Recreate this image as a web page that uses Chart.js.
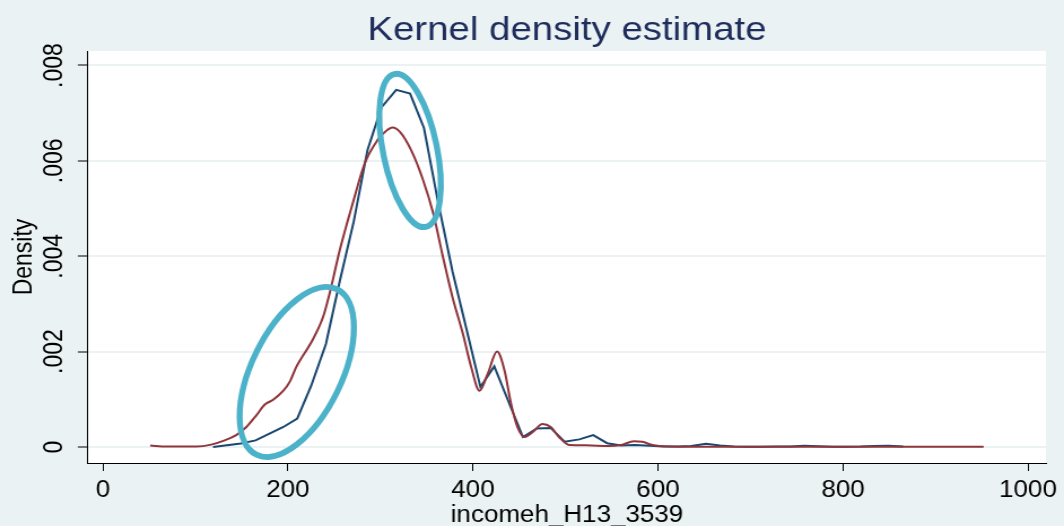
<!DOCTYPE html>
<html>
<head>
<meta charset="utf-8">
<title>Kernel density estimate</title>
<script src="https://cdn.jsdelivr.net/npm/chart.js@4.4.1/dist/chart.umd.min.js"></script>
<style>
    html, body { margin: 0; padding: 0; background: #eaf2f3; overflow: hidden; }
</style>
</head>
<body>
<!-- canvas is drawn 942 wide and shown at 1064, same wide look as the Stata export -->
<canvas id="kdeChart" width="942" height="526" style="width:1064px;height:526px;"></canvas>
<script>
/* --- DATA --- */
const xTicks = [0, 200, 400, 600, 800, 1000];
const xTickLabels = ['0', '200', '400', '600', '800', '1000'];
const yTicks = [0, 0.002, 0.004, 0.006, 0.008];
const yTickLabels = ['0', '.002', '.004', '.006', '.008'];

// first estimate (navy), 50 evaluation points
const navyX = [119, 134, 149, 165, 180, 195, 210, 225, 241, 256,
               271, 286, 301, 317, 332, 347, 362, 378, 393, 408,
               423, 438, 454, 469, 484, 499, 515, 530, 545, 560,
               575, 591, 606, 621, 636, 652, 667, 682, 697, 712,
               728, 743, 758, 773, 789, 804, 819, 834, 849, 865];
const navyY = [0.000002, 0.000035, 0.000073, 0.000139, 0.00028, 0.00042, 0.000595, 0.00128, 0.00216, 0.00348,
               0.00472, 0.00623, 0.00712, 0.00749, 0.00741, 0.00669, 0.00516, 0.00367, 0.00247, 0.00126,
               0.00169, 0.00097, 0.00021, 0.00039, 0.0004, 0.00011, 0.00016, 0.00025, 0.00008, 0.00003,
               0.00004, 0.000025, 0.00001, 0.00001, 0.00002, 0.00007, 0.00003, 0.00001, 0.000005, 0.000005,
               0.000008, 0.00001, 0.000025, 0.000015, 0.000005, 0.000005, 0.000008, 0.00002, 0.000025, 0.00001];

// second estimate (maroon)
const maroonX = [51, 69, 101, 117, 130, 144, 155, 166, 175, 184,
                 195, 202, 209, 227, 238, 245, 256, 270, 283, 297,
                 305, 313, 321, 333, 346, 357, 367, 378, 389, 398,
                 407, 416, 426, 434, 441, 448, 456, 465, 475, 484,
                 493, 504, 522, 547, 560, 574, 583, 594, 612, 645,
                 700, 800, 900, 952];
const maroonY = [0.00003, 0.00001, 0.00001, 0.00005, 0.00013, 0.00025, 0.00042, 0.00067, 0.00089, 0.00099,
                 0.00118, 0.00137, 0.00168, 0.00226, 0.00273, 0.00322, 0.00413, 0.00511, 0.00595, 0.00644,
                 0.00661, 0.0067, 0.00661, 0.00623, 0.0056, 0.0049, 0.00403, 0.00313, 0.00238, 0.00168,
                 0.00118, 0.00154, 0.002, 0.00161, 0.00092, 0.00042, 0.00021, 0.00032, 0.00048, 0.00042,
                 0.00021, 0.00004, 0.000035, 0.00002, 0.00004, 0.00012, 0.00011, 0.00004, 0.00001, 0.000005,
                 0.000004, 0.000003, 0.000003, 0.000004];

// highlight rings: centre in data units, radii in screen px, angle in degrees
const rings = [
    { x: 209.5, y: 0.001573, rx: 92, ry: 45, angle: -64 },
    { x: 332, y: 0.006218, rx: 78, ry: 27, angle: 78.4 }
];

/* --- LAYOUT --- */
const CANVAS_W = 942;
const STRETCH = 1064 / CANVAS_W;
const X_MIN = -16.2, X_MAX = 1019.4;
const Y_MIN = -0.0003355, Y_MAX = 0.008304;

const NAVY = '#1a476f';
const MAROON = '#90353b';
const RING = '#4cb2c9';
const BG = '#eaf2f3';

Chart.defaults.font.family = "'Liberation Sans', Arial, sans-serif";
Chart.defaults.color = '#000';

const plotBackground = {
    id: 'plotBackground',
    beforeDraw(chart) {
        const { ctx, chartArea: a } = chart;
        ctx.save();
        ctx.fillStyle = BG;
        ctx.fillRect(0, 0, chart.width, chart.height);
        ctx.fillStyle = '#ffffff';
        ctx.fillRect(a.left, a.top, a.right - a.left, a.bottom - a.top);
        ctx.restore();
    }
};

const highlightRings = {
    id: 'highlightRings',
    afterDatasetsDraw(chart) {
        const { ctx, scales: { x, y } } = chart;
        rings.forEach(r => {
            ctx.save();
            ctx.translate(x.getPixelForValue(r.x), y.getPixelForValue(r.y));
            ctx.scale(1 / STRETCH, 1); // undo the css stretch so the ring stays round
            ctx.rotate(r.angle * Math.PI / 180);
            ctx.beginPath();
            ctx.ellipse(0, 0, r.rx, r.ry, 0, 0, Math.PI * 2);
            ctx.strokeStyle = RING;
            ctx.lineWidth = 6;
            ctx.stroke();
            ctx.restore();
        });
    }
};

new Chart(document.getElementById('kdeChart'), {
    type: 'line',
    data: {
        datasets: [
            {
                data: navyX.map((v, i) => ({ x: v, y: navyY[i] })),
                borderColor: NAVY,
                borderWidth: 2,
                pointRadius: 0,
                tension: 0,
                order: 2
            },
            {
                data: maroonX.map((v, i) => ({ x: v, y: maroonY[i] })),
                borderColor: MAROON,
                borderWidth: 2,
                pointRadius: 0,
                cubicInterpolationMode: 'monotone',
                order: 1
            }
        ]
    },
    options: {
        responsive: false,
        animation: false,
        devicePixelRatio: 1,
        layout: { padding: { left: 0, right: 15, top: 0, bottom: 0 } },
        plugins: {
            legend: { display: false },
            tooltip: { enabled: false },
            title: {
                display: true,
                text: 'Kernel density estimate',
                color: '#1f2d5c',
                fullSize: false,
                font: { size: 34, weight: 'normal', lineHeight: 1.2 },
                padding: { top: 10, bottom: 0.2 }
            }
        },
        scales: {
            x: {
                type: 'linear',
                min: X_MIN,
                max: X_MAX,
                afterBuildTicks: s => { s.ticks = xTicks.map(v => ({ value: v })); },
                afterFit: s => { s.height = 63; },
                grid: { drawOnChartArea: false, drawTicks: true, tickLength: 8, tickColor: '#000', tickWidth: 1 },
                border: { display: true, color: '#000', width: 1 },
                ticks: {
                    autoSkip: false,
                    maxRotation: 0,
                    padding: 6,
                    font: { size: 23, lineHeight: 1.2 },
                    callback: v => xTickLabels[xTicks.indexOf(v)]
                },
                title: {
                    display: true,
                    text: 'incomeh_H13_3539',
                    font: { size: 23, lineHeight: 0.9 },
                    padding: { top: 0, bottom: 0 }
                }
            },
            y: {
                min: Y_MIN,
                max: Y_MAX,
                afterBuildTicks: s => { s.ticks = yTicks.map(v => ({ value: v })); },
                afterFit: s => { s.width = 77.9; },
                grid: { color: BG, lineWidth: 2, tickLength: 9, tickColor: '#000', tickWidth: 1 },
                border: { display: true, color: '#000', width: 1 },
                ticks: {
                    minRotation: 90,
                    maxRotation: 90,
                    crossAlign: 'center',
                    padding: -2,
                    font: { size: 23, lineHeight: 1.2 },
                    callback: v => yTickLabels[yTicks.indexOf(v)]
                },
                title: {
                    display: true,
                    text: 'Density',
                    font: { size: 23, lineHeight: 1.2 },
                    padding: { top: 8.3, bottom: 0 }
                }
            }
        }
    },
    plugins: [plotBackground, highlightRings]
});
</script>
</body>
</html>
